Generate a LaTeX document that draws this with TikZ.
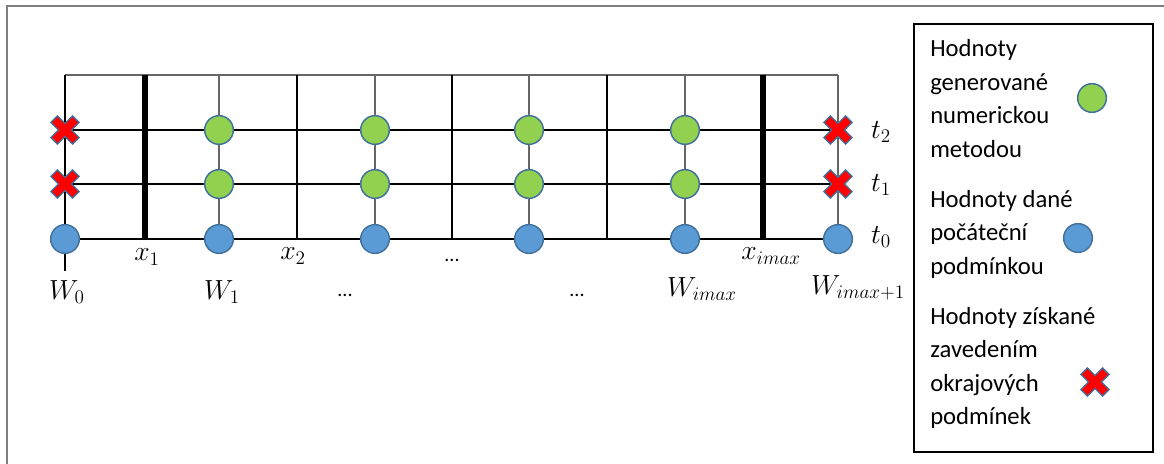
\documentclass[tikz,border=0pt]{standalone}
\usepackage{fontspec}
\setmainfont{Carlito}
\definecolor{dotgreen}{HTML}{92D050}
\definecolor{dotblue}{HTML}{5B9BD5}
\definecolor{dotedge}{HTML}{41719C}
\definecolor{xred}{HTML}{FF0000}
\definecolor{framegray}{HTML}{7F7F7F}
\tikzset{
  greendot/.style={circle, minimum size=21.5pt, inner sep=0pt, fill=dotgreen, draw=dotedge, line width=1.1pt},
  bluedot/.style={circle, minimum size=21.5pt, inner sep=0pt, fill=dotblue, draw=dotedge, line width=1.1pt},
  gridline/.style={line width=0.8pt, black},
  colline/.style={line width=0.8pt, black!60},
  thickline/.style={line width=3.8pt, black},
  mathlbl/.style={inner sep=0pt, font=\fontsize{19.5}{22}\selectfont},
  dotslbl/.style={inner sep=0pt, font=\fontsize{15}{17}\selectfont},
  legtext/.style={inner sep=0pt, anchor=west, align=left, font=\fontsize{18.5}{25.1}\selectfont},
  xmark/.pic={
    \filldraw[fill=xred, draw=dotedge, line width=1pt, rotate=45]
      (-4.6,-15.3) -- (4.6,-15.3) -- (4.6,-4.6) -- (15.3,-4.6) -- (15.3,4.6) -- (4.6,4.6)
      -- (4.6,15.3) -- (-4.6,15.3) -- (-4.6,4.6) -- (-15.3,4.6) -- (-15.3,-4.6) -- (-4.6,-4.6) -- cycle;
  }
}
\begin{document}
\begin{tikzpicture}[x=0.75pt, y=-0.75pt]
\useasboundingbox (0,0) rectangle (1164,464);
% outer frame
\draw[framegray, line width=1.5pt] (7,470) -- (7,6) -- (1170,6);
% legend frame
\draw[black, line width=1pt] (914,24) rectangle (1153,452);

% grid horizontal lines
\draw[colline] (65,75) -- (838,75);
\foreach \y in {130,184,239} \draw[gridline] (65,\y) -- (838,\y);
% plain vertical lines
\foreach \x in {297,452,607} \draw[gridline] (\x,75) -- (\x,239);
% dot column lines
\foreach \x in {65,219,375,529,685,838} \draw[colline] (\x,75) -- (\x,239);
\draw[gridline] (65,75) -- (65,239);
% thick lines
\draw[thickline] (145,75) -- (145,239);
\draw[thickline] (763,75) -- (763,239);
% stub below W0
\draw[gridline] (65,239) -- (65,271);

% blue dots
\node[bluedot] (b0) at (65,239) {};
\node[bluedot] (b1) at (219,239) {};
\node[bluedot] (b2) at (375,239) {};
\node[bluedot] (b3) at (529,239) {};
\node[bluedot] (b4) at (685,239) {};
\node[bluedot] (b5) at (838,239) {};
% green dots
\foreach \x/\n in {219/1,375/2,529/3,685/4} {
  \node[greendot] (g1\n) at (\x,184) {};
  \node[greendot] (g2\n) at (\x,130) {};
}
% crosses
\pic at (65,130) {xmark};
\pic at (65,184) {xmark};
\pic at (838,130) {xmark};
\pic at (838,184) {xmark};

% labels
\node[mathlbl] (lx1) at (147,257) {$x_1$};
\node[mathlbl] (lx2) at (293,256) {$x_2$};
\node[dotslbl] (ld1) at (452,260) {...};
\node[mathlbl] (lw0) at (67,292) {$W_0$};
\node[mathlbl] (lw1) at (222,292) {$W_1$};
\node[dotslbl] (ld2) at (345,295) {...};
\node[dotslbl] (ld3) at (577,295) {...};
\node[mathlbl] (lwi) at (702,289) {$W_{imax}$};
\node[mathlbl] (lxi) at (771,256) {$x_{imax}$};
\node[mathlbl] (lwi1) at (858,288) {$W_{imax+1}$};
\node[mathlbl] (lt2) at (881,132) {$t_2$};
\node[mathlbl] (lt1) at (881,185) {$t_1$};
\node[mathlbl] (lt0) at (881,237) {$t_0$};

% legend
\node[legtext] (leg1) at (930,98.5) {Hodnoty\\generované\\numerickou\\metodou};
\node[legtext] (leg2) at (930,234) {Hodnoty dané\\počáteční\\podmínkou};
\node[legtext] (leg3) at (930,368) {Hodnoty získané\\zavedením\\okrajových\\podmínek};
\node[greendot] (lgg) at (1092,98) {};
\node[bluedot] (lgb) at (1078,238) {};
\pic at (1095,382) {xmark};
\end{tikzpicture}
\end{document}
